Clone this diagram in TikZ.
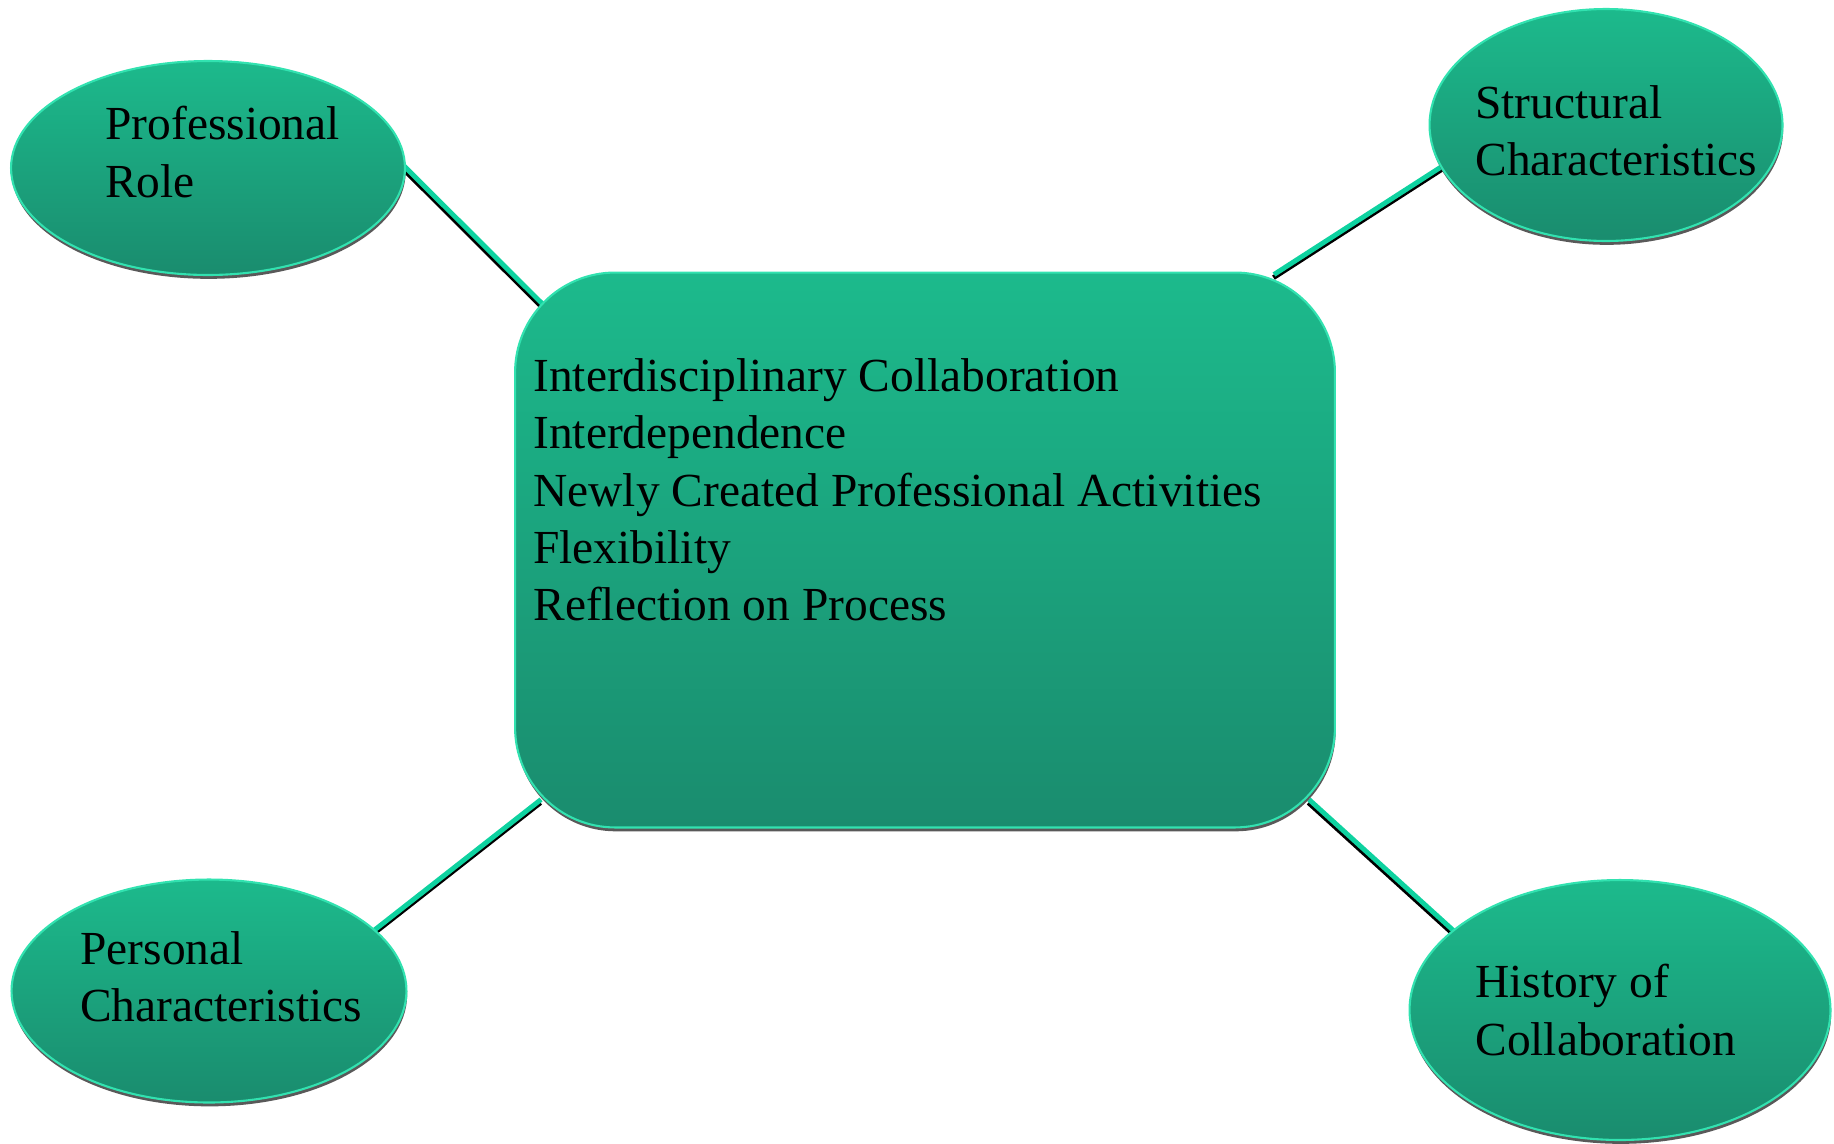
\documentclass[tikz,border=0pt]{standalone}
\usepackage{fontspec}
\setmainfont{Liberation Serif}
\usetikzlibrary{shapes.geometric,shadows,calc,backgrounds}
\definecolor{bubbletop}{RGB}{28,186,140}
\definecolor{bubblebot}{RGB}{26,140,110}
\definecolor{bubbleedge}{RGB}{50,226,176}
\definecolor{linkteal}{RGB}{14,210,160}
\tikzset{
 bubble/.style={ellipse,inner sep=0pt,top color=bubbletop,bottom color=bubblebot,draw=bubbleedge,line width=1.2pt,
  drop shadow={shadow xshift=0.4pt,shadow yshift=-2.2pt,fill=black!65,opacity=1}},
 hub/.style={rectangle,rounded corners=2cm,inner sep=0pt,top color=bubbletop,bottom color=bubblebot,draw=bubbleedge,line width=1.2pt,
  drop shadow={shadow xshift=0.4pt,shadow yshift=-2.2pt,fill=black!65,opacity=1}},
 words/.style={inner sep=0pt,align=left,anchor=west,font=\fontsize{27}{32.6}\selectfont},
 link/.style={line width=2.8pt,draw=linkteal,line cap=butt,preaction={draw=black,line width=2.8pt,transform canvas={xshift=-0.3pt,yshift=-1.8pt}}}
}
\begin{document}
\begin{tikzpicture}[x=0.02cm,y=-0.02cm]
 \useasboundingbox (0,0) rectangle (1834,1143);
 % centre box
 \node[hub,minimum width=16.4cm,minimum height=11.1cm] (hub) at (925,550) {};
 \node[words] (hublist) at (533,490) {Interdisciplinary Collaboration\\Interdependence\\Newly Created Professional Activities\\Flexibility\\Reflection on Process};
 % four factors
 \node[bubble,minimum width=7.88cm,minimum height=4.28cm] (role) at (208,168) {};
 \node[words] (rolelabel) at (105,152) {Professional\\Role};
 \node[bubble,minimum width=7.06cm,minimum height=4.64cm] (struct) at (1606,125) {};
 \node[words] (structlabel) at (1475,131) {Structural\\Characteristics};
 \node[bubble,minimum width=7.9cm,minimum height=4.46cm] (pers) at (209,991) {};
 \node[words] (perslabel) at (80,977) {Personal\\Characteristics};
 \node[bubble,minimum width=8.42cm,minimum height=5.2cm] (hist) at (1620,1010) {};
 \node[words] (histlabel) at (1475,1010) {History of\\Collaboration};
 % line ends
 \coordinate (roleend) at ($(role.center)+(162,-36)$);
 \coordinate (structend) at ($(struct.center)+(-151,33)$);
 \coordinate (persend) at ($(pers.center)+(163,-59)$);
 \coordinate (histend) at ($(hist.center)+(-165,-78)$);
 \coordinate (hubnw) at ($(hub.north west)+(28,32)$);
 \coordinate (hubne) at ($(hub.north east)+(-62,3)$);
 \coordinate (hubsw) at ($(hub.south west)+(27,-29)$);
 \coordinate (hubse) at ($(hub.south east)+(-27,-29)$);
 \begin{scope}[on background layer]
  \draw[link] (roleend) -- (hubnw);
  \draw[link] (structend) -- (hubne);
  \draw[link] (persend) -- (hubsw);
  \draw[link] (histend) -- (hubse);
 \end{scope}
\end{tikzpicture}
\end{document}
